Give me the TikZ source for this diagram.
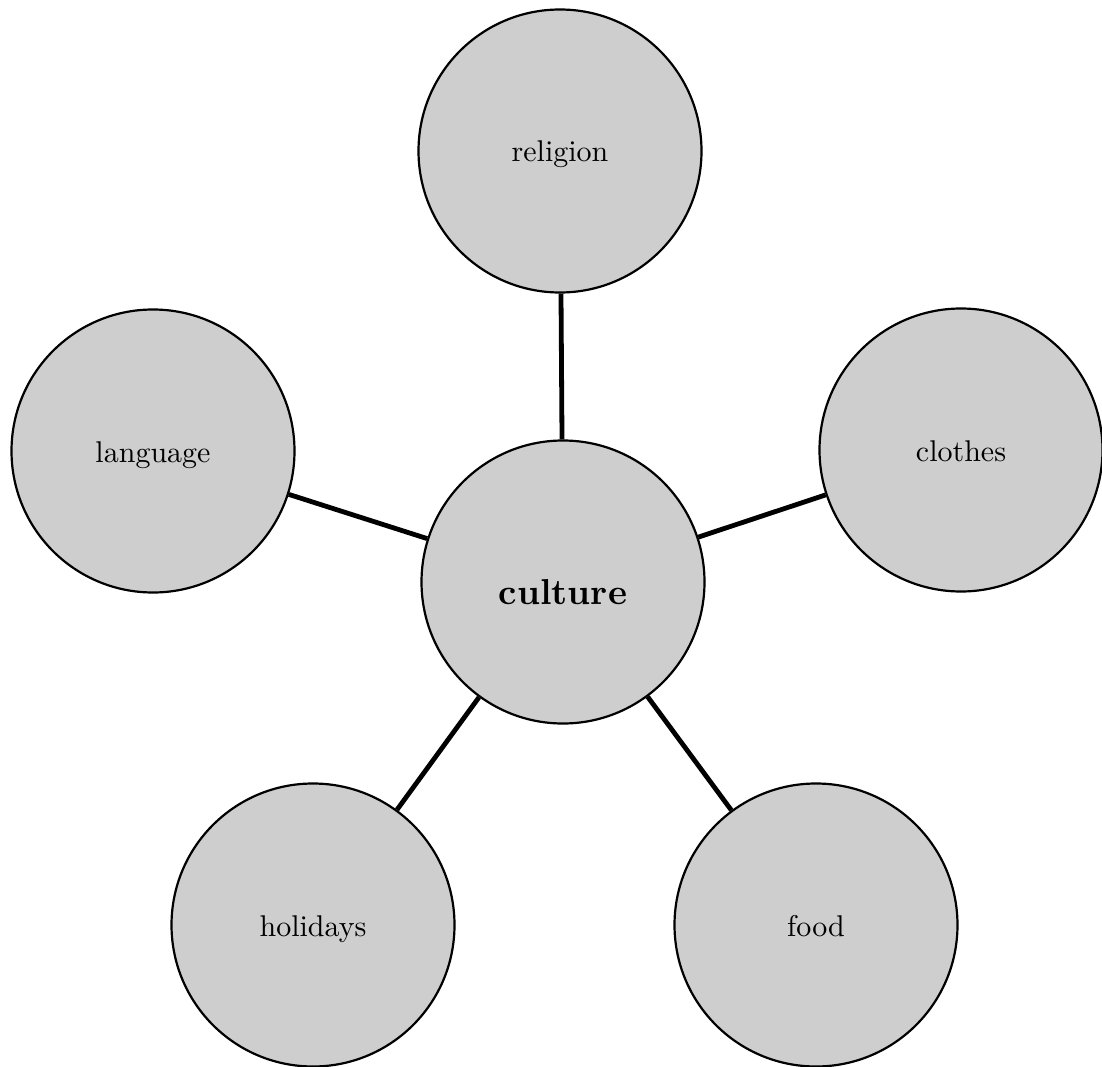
\documentclass[tikz,border=0pt]{standalone}
\usepackage{fontspec}
\setmainfont{lmroman10-regular.otf}[BoldFont=lmroman10-bold.otf]
\definecolor{bubblefill}{RGB}{206,206,206}
\begin{document}
\begin{tikzpicture}[x=1pt,y=-1pt,
  bubble/.style={circle, draw=black, line width=2.2pt, fill=bubblefill,
    minimum size=283pt, inner sep=0pt, text height=29pt, text depth=7pt,
    font=\fontsize{30}{36}\selectfont},
  hub/.style={bubble, text height=44pt, text depth=0pt,
    font=\fontsize{36}{42}\selectfont\bfseries},
  link/.style={draw=black, line width=4.8pt}]
\useasboundingbox[fill=white] (0,0) rectangle (1102,1067);
\node[bubble] (religion) at (560,151) {religion};
\node[bubble] (language) at (153,451) {language};
\node[bubble] (clothes)  at (961,450) {clothes};
\node[bubble] (holidays) at (313,925) {holidays};
\node[bubble] (food)     at (816,925) {food};
\node[hub]    (culture)  at (563,582) {culture};
\draw[link] (culture) -- (religion);
\draw[link] (culture) -- (language);
\draw[link] (culture) -- (clothes);
\draw[link] (culture) -- (holidays);
\draw[link] (culture) -- (food);
\end{tikzpicture}
\end{document}
